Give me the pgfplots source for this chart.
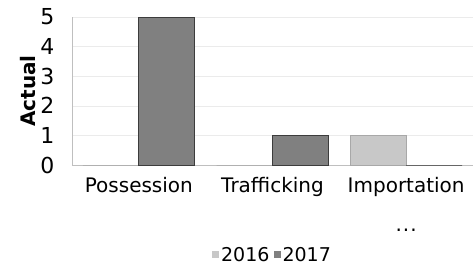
\documentclass[border=0pt]{standalone}
\usepackage{pgfplots}
\pgfplotsset{compat=1.18}
\usepackage{fontspec}
\setmainfont{DejaVu Sans}
\definecolor{c16}{HTML}{C8C8C8}
\definecolor{c16d}{HTML}{A8A8A8}
\definecolor{c17}{HTML}{808080}
\definecolor{c17d}{HTML}{3C3C3C}
\newcommand{\threedots}{.\kern1pt.\kern1pt.}
\begin{document}
\begin{tikzpicture}
\path[use as bounding box] (-72pt,-102pt) rectangle (401pt,165pt);
\begin{axis}[
  at={(0,0)}, anchor=south west,
  scale only axis, width=401pt, height=148pt,
  ybar=0pt, bar width=56pt,
  xmin=-0.5, xmax=2.5, ymin=0, ymax=5,
  xtick={0,1,2}, xticklabels={Possession,Trafficking,{Importation\\[12pt]\threedots}},
  xticklabel style={font=\fontsize{20}{27}\selectfont, align=center, yshift=-9pt},
  ytick={0,1,2,3,4,5},
  yticklabel style={font=\fontsize{22}{22}\selectfont, xshift=-14pt},
  /pgf/number format/assume math mode=true,
  major tick length=0pt,
  ymajorgrids, grid style={draw=black!8},
  axis x line*=bottom, axis y line*=left,
  axis line style={draw=black!25},
  ylabel={\textbf{Actual}}, ylabel style={font=\fontsize{20}{20}\selectfont, yshift=-2pt},
  legend style={at={(0.5,-0.53)}, anchor=north, draw=none, legend columns=2,
    font=\fontsize{19}{19}\selectfont, /tikz/every even column/.append style={column sep=2pt}},
  legend image code/.code={\draw[#1, draw=none] (0pt,-3pt) rectangle (7pt,4pt);},
]
\addplot[fill=c16, draw=c16d] coordinates {(0,0) (1,0) (2,1)};
\addplot[fill=c17, draw=c17d, line width=1pt] coordinates {(0,5) (1,1) (2,0)};
\legend{2016,2017}
\end{axis}
\end{tikzpicture}
\end{document}
